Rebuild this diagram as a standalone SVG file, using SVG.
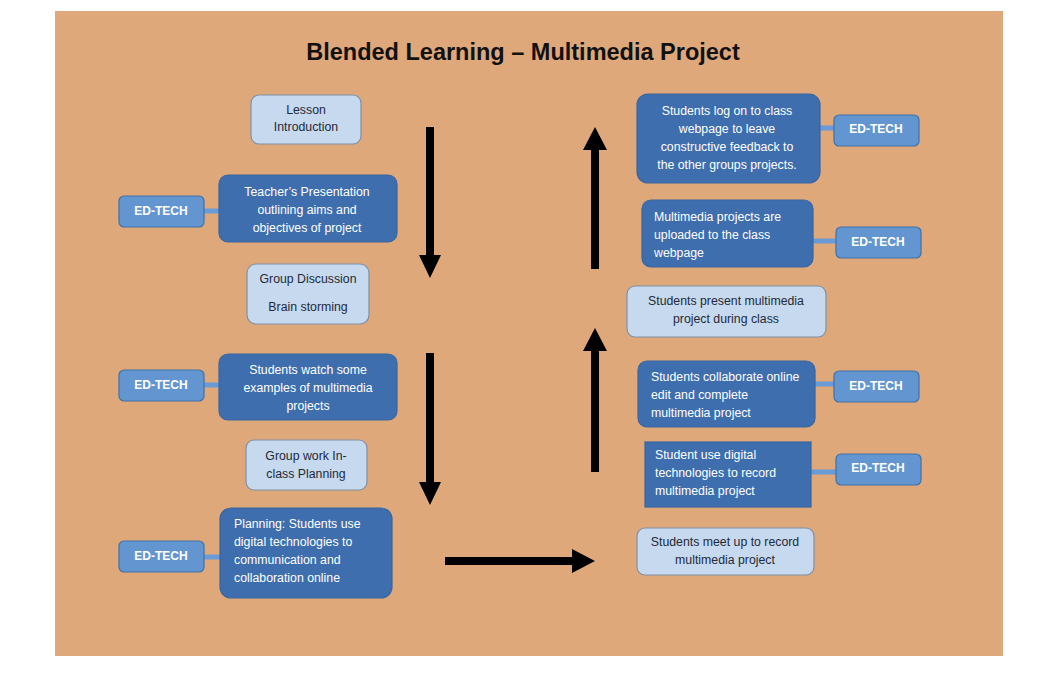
<svg xmlns="http://www.w3.org/2000/svg" width="1045" height="689" viewBox="0 0 1045 689">
<defs>
<style>
.bg{fill:#DFA87B}
.light{fill:#C6D9EF;stroke:#7D90A6;stroke-width:1.2}
.dark{fill:#3E6EAE;stroke:#3A66A0;stroke-width:1.2}
.ed{fill:#6396D1;stroke:#4070A8;stroke-width:1.2}
.lt{font-family:"Liberation Sans",Arial,sans-serif;font-size:12.3px;fill:#1F2A38}
.wt{font-family:"Liberation Sans",Arial,sans-serif;font-size:12.3px;fill:#FFFFFF}
.et{font-family:"Liberation Sans",Arial,sans-serif;font-size:12px;font-weight:bold;fill:#FFFFFF;text-anchor:middle}
.c{text-anchor:middle}
.link{stroke:#6A9BD6;stroke-width:5}
.arr{fill:#000000}
</style>
</defs>
<rect x="0" y="0" width="1045" height="689" fill="#FFFFFF"/>
<rect class="bg" x="55" y="11" width="948" height="645"/>
<text x="523" y="60" font-family="Liberation Sans,Arial,sans-serif" font-size="23.5" font-weight="bold" text-anchor="middle" fill="#111111">Blended Learning – Multimedia Project</text>

<g id="connectors">
<line class="link" x1="204" y1="211" x2="220" y2="211"/>
<line class="link" x1="204" y1="385" x2="220" y2="385"/>
<line class="link" x1="204" y1="557" x2="222" y2="557"/>
<line class="link" x1="819" y1="128" x2="835" y2="128"/>
<line class="link" x1="811" y1="241" x2="837" y2="241"/>
<line class="link" x1="813" y1="384" x2="835" y2="384"/>
<line class="link" x1="809" y1="472" x2="837" y2="472"/>
<polygon class="arr" points="426,127 434,127 434,255 441,255 430,278 419,255 426,255"/>
<polygon class="arr" points="426,353 434,353 434,482 441,482 430,505 419,482 426,482"/>
<polygon class="arr" points="445,557 572,557 572,549 595,561 572,573 572,565 445,565"/>
<polygon class="arr" points="591,269 599,269 599,150 607,150 595,127 583,150 591,150"/>
<polygon class="arr" points="591,472 599,472 599,351 607,351 595,328 583,351 591,351"/>
</g>

<g id="n-lesson">
<rect class="light" x="251" y="95" width="110" height="49" rx="8"/>
<text class="lt c" x="306" y="114">Lesson</text>
<text class="lt c" x="306" y="131">Introduction</text>
</g>

<g id="n-teacher">
<rect class="dark" x="219" y="175" width="178" height="67" rx="9"/>
<text class="wt c" x="307" y="196">Teacher’s Presentation</text>
<text class="wt c" x="307" y="214">outlining aims and</text>
<text class="wt c" x="307" y="232">objectives of project</text>
</g>
<g id="e-teacher">
<rect class="ed" x="119" y="196" width="85" height="31" rx="5"/>
<text class="et" x="161" y="215">ED-TECH</text>
</g>

<g id="n-discussion">
<rect class="light" x="247" y="264" width="122" height="60" rx="9"/>
<text class="lt c" x="308" y="283">Group Discussion</text>
<text class="lt c" x="308" y="311">Brain storming</text>
</g>

<g id="n-watch">
<rect class="dark" x="219" y="354" width="178" height="66" rx="9"/>
<text class="wt c" x="308" y="374">Students watch some</text>
<text class="wt c" x="308" y="392">examples of multimedia</text>
<text class="wt c" x="308" y="410">projects</text>
</g>
<g id="e-watch">
<rect class="ed" x="119" y="370" width="85" height="31" rx="5"/>
<text class="et" x="161" y="389">ED-TECH</text>
</g>

<g id="n-groupwork">
<rect class="light" x="246" y="440" width="121" height="50" rx="8"/>
<text class="lt c" x="306" y="460">Group work In-</text>
<text class="lt c" x="306" y="478">class Planning</text>
</g>

<g id="n-planning">
<rect class="dark" x="220" y="508" width="172" height="90" rx="11"/>
<text class="wt" x="234" y="528">Planning: Students use</text>
<text class="wt" x="234" y="546">digital technologies to</text>
<text class="wt" x="234" y="564">communication and</text>
<text class="wt" x="234" y="582">collaboration online</text>
</g>
<g id="e-planning">
<rect class="ed" x="119" y="541" width="85" height="31" rx="5"/>
<text class="et" x="161" y="560">ED-TECH</text>
</g>

<g id="n-logon">
<rect class="dark" x="637" y="94" width="183" height="89" rx="11"/>
<text class="wt c" x="727" y="115">Students log on to class</text>
<text class="wt c" x="727" y="133">webpage to leave</text>
<text class="wt c" x="727" y="151">constructive feedback to</text>
<text class="wt c" x="727" y="169">the other groups projects.</text>
</g>
<g id="e-logon">
<rect class="ed" x="834" y="115" width="85" height="31" rx="5"/>
<text class="et" x="876" y="133">ED-TECH</text>
</g>

<g id="n-uploaded">
<rect class="dark" x="642" y="200" width="171" height="67" rx="9"/>
<text class="wt" x="654" y="221">Multimedia projects are</text>
<text class="wt" x="654" y="239">uploaded to the class</text>
<text class="wt" x="654" y="257">webpage</text>
</g>
<g id="e-uploaded">
<rect class="ed" x="836" y="227" width="85" height="31" rx="5"/>
<text class="et" x="878" y="246">ED-TECH</text>
</g>

<g id="n-present">
<rect class="light" x="627" y="286" width="199" height="51" rx="8"/>
<text class="lt c" x="726" y="305">Students present multimedia</text>
<text class="lt c" x="726" y="323">project during class</text>
</g>

<g id="n-collaborate">
<rect class="dark" x="638" y="361" width="177" height="66" rx="9"/>
<text class="wt" x="651" y="381">Students collaborate online</text>
<text class="wt" x="651" y="399">edit and complete</text>
<text class="wt" x="651" y="417">multimedia project</text>
</g>
<g id="e-collaborate">
<rect class="ed" x="834" y="371" width="85" height="31" rx="5"/>
<text class="et" x="876" y="390">ED-TECH</text>
</g>

<g id="n-record">
<rect class="dark" x="645" y="442" width="166" height="65"/>
<text class="wt" x="655" y="459">Student use digital</text>
<text class="wt" x="655" y="477">technologies to record</text>
<text class="wt" x="655" y="495">multimedia project</text>
</g>
<g id="e-record">
<rect class="ed" x="836" y="454" width="85" height="31" rx="5"/>
<text class="et" x="878" y="472">ED-TECH</text>
</g>

<g id="n-meet">
<rect class="light" x="637" y="528" width="177" height="47" rx="8"/>
<text class="lt c" x="725" y="546">Students meet up to record</text>
<text class="lt c" x="725" y="564">multimedia project</text>
</g>
</svg>
